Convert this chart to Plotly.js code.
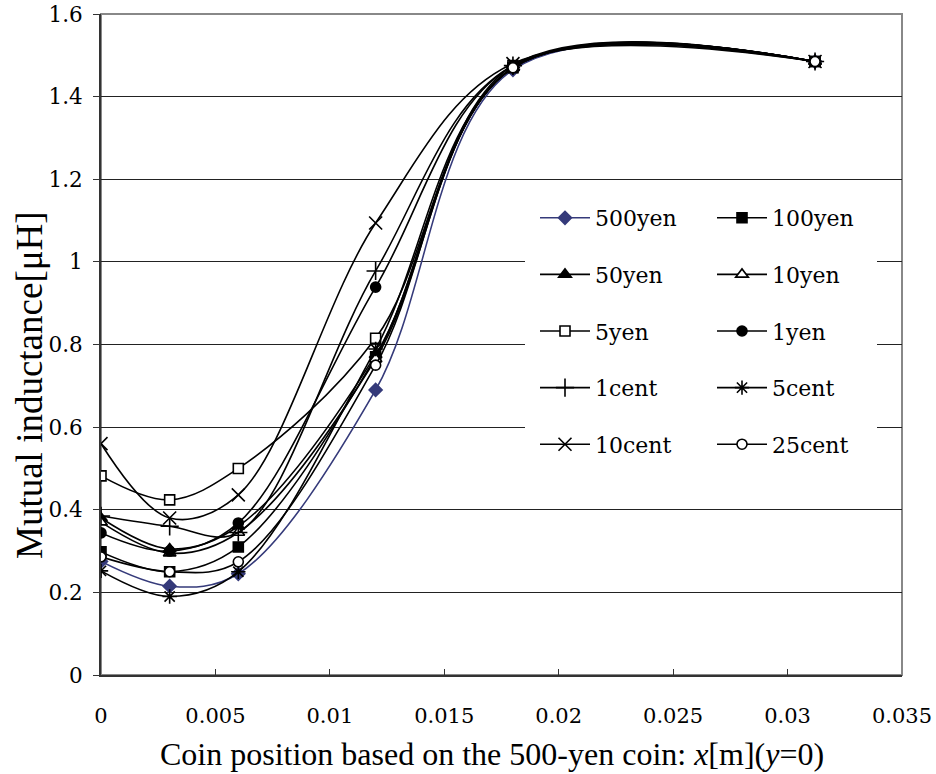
<!DOCTYPE html>
<html>
<head>
<meta charset="utf-8">
<script src="https://cdn.plot.ly/plotly-3.0.1.min.js"></script>
<style>body{margin:0;background:#fff}</style>
</head>
<body>
<div id="chart" style="width:936px;height:774px"></div>
<script>
var xPos = [0, 0.003, 0.006, 0.012, 0.018, 0.0312];
var names = ["500yen","100yen","50yen","10yen","5yen","1yen","1cent","5cent","10cent","25cent"];
var y500yen = [0.275, 0.215, 0.245, 0.69, 1.465, 1.485];
var y100yen = [0.298, 0.25, 0.31, 0.77, 1.47, 1.485];
var y50yen  = [0.38, 0.305, 0.36, 0.775, 1.47, 1.485];
var y10yen  = [0.37, 0.295, 0.345, 0.765, 1.47, 1.485];
var y5yen   = [0.482, 0.424, 0.50, 0.815, 1.475, 1.485];
var y1yen   = [0.344, 0.30, 0.368, 0.939, 1.475, 1.485];
var y1cent  = [0.385, 0.36, 0.345, 0.978, 1.475, 1.485];
var y5cent  = [0.252, 0.19, 0.25, 0.789, 1.47, 1.485];
var y10cent = [0.56, 0.38, 0.436, 1.094, 1.48, 1.485];
var y25cent = [0.286, 0.25, 0.274, 0.75, 1.47, 1.485];
var xTicks = [0, 0.005, 0.01, 0.015, 0.02, 0.025, 0.03, 0.035];
var yTicks = [0, 0.2, 0.4, 0.6, 0.8, 1, 1.2, 1.4, 1.6];
var xTitle = "Coin position based on the 500-yen coin: <i>x</i>[m](<i>y</i>=0)";
var yTitle = "Mutual inductance[μH]";

var series = [y500yen,y100yen,y50yen,y10yen,y5yen,y1yen,y1cent,y5cent,y10cent,y25cent];
var navy = "#353a7a";
var styles = [
  {sym:"diamond", fill:navy, lc:navy, size:10},
  {sym:"square", fill:"#000", lc:"#000", size:10},
  {sym:"triangle-up", fill:"#000", lc:"#000", size:11},
  {sym:"triangle-up", fill:"#fff", lc:"#000", size:11},
  {sym:"square", fill:"#fff", lc:"#000", size:10},
  {sym:"circle", fill:"#000", lc:"#000", size:10},
  {sym:"cross-thin-open", fill:"#000", lc:"#000", size:13},
  {sym:"asterisk-open", fill:"#000", lc:"#000", size:12},
  {sym:"x-thin-open", fill:"#000", lc:"#000", size:13},
  {sym:"circle", fill:"#fff", lc:"#000", size:10}
];
var traces = series.map(function(ys, i){
  var s = styles[i];
  return {
    x: xPos, y: ys, name: names[i], type: "scatter", mode: "lines+markers",
    line: {color: s.lc, width: 1.6, shape: "spline", smoothing: 1.0},
    marker: {symbol: s.sym, size: s.size, color: s.fill, line: {color: s.lc, width: 1.6}},
    legend: (i % 2 === 0) ? "legend" : "legend2",
    legendgroup: "g" + i
  };
});

function px2x(p){ return (p - 101) / 801; }
function px2y(p){ return (675 - p) / 661; }

var fontFam = "DejaVu Serif, serif";
var legendCommon = {
  bgcolor: "rgba(255,255,255,0)", borderwidth: 0,
  font: {family: fontFam, size: 22, color: "#000"},
  tracegroupgap: 25, itemwidth: 50,
  xanchor: "left", yanchor: "top"
};
var layout = {
  width: 936, height: 774,
  margin: {l: 101, r: 34, t: 14, b: 99},
  paper_bgcolor: "#fff", plot_bgcolor: "#fff",
  showlegend: true,
  font: {family: fontFam, color: "#000"},
  xaxis: {
    range: [0, 0.035], tickvals: xTicks, ticktext: xTicks.map(String),
    showgrid: false, zeroline: false, showline: true, linecolor: "#333", linewidth: 2,
    ticks: "inside", ticklen: 6, tickcolor: "#333",
    ticklabelstandoff: 21,
    tickfont: {family: fontFam, size: 21, color: "#000"}
  },
  yaxis: {
    range: [0, 1.6], tickvals: yTicks, ticktext: yTicks.map(String),
    showgrid: true, gridcolor: "#222", gridwidth: 1, zeroline: false,
    showline: true, linecolor: "#333", linewidth: 2,
    ticks: "outside", ticklen: 6, tickcolor: "#333",
    ticklabelstandoff: 6,
    tickfont: {family: fontFam, size: 21.5, color: "#000"}
  },
  annotations: [
    {text: xTitle, xref: "paper", yref: "paper", x: px2x(492), y: px2y(754),
     xanchor: "center", yanchor: "middle", showarrow: false,
     font: {family: "Liberation Serif, serif", size: 32, color: "#000"}},
    {text: yTitle, xref: "paper", yref: "paper", x: px2x(30), y: px2y(385),
     xanchor: "center", yanchor: "middle", showarrow: false, textangle: -90,
     font: {family: "Liberation Serif, serif", size: 37, color: "#000"}}
  ],
  shapes: [
    {type: "rect", xref: "paper", yref: "paper", x0: 0, x1: 1, y0: 0, y1: 1,
     line: {color: "#888", width: 2}, layer: "below"},
    {type: "rect", xref: "paper", yref: "paper", x0: px2x(525), x1: px2x(877), y0: px2y(470), y1: px2y(183),
     fillcolor: "#fff", line: {width: 0}, layer: "above"}
  ],
  legend: Object.assign({}, legendCommon, {x: px2x(535), y: px2y(197)}),
  legend2: Object.assign({}, legendCommon, {x: px2x(712), y: px2y(197)})
};
Plotly.newPlot("chart", traces, layout, {displayModeBar: false, staticPlot: true});
</script>
</body>
</html>
